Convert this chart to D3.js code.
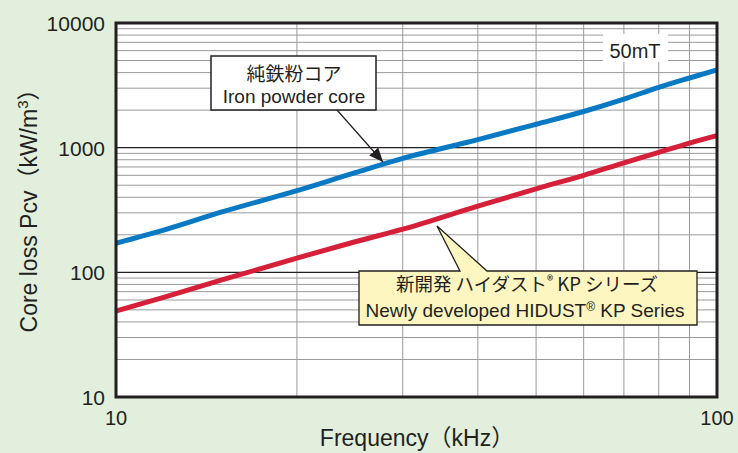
<!DOCTYPE html>
<html>
<head>
<meta charset="utf-8">
<script src="https://cdn.jsdelivr.net/npm/d3@7"></script>
<style>
  html, body { margin: 0; padding: 0; background: #e2efdc; }
  svg { display: block; font-family: "Liberation Sans", Arial, "Noto Sans CJK JP", sans-serif; }
</style>
</head>
<body>
<svg id="chart" width="738" height="453"></svg>
<script>
// frequency (kHz) sample points
var freq = [10, 12, 15, 20, 25, 30, 40, 50, 60, 70, 80, 90, 100];
// core loss (kW/m3) at 50mT
var ironPowder = [171, 218, 305, 452, 630, 820, 1160, 1540, 1950, 2450, 3050, 3620, 4200];
var hidustKP = [49, 63, 87, 130, 176, 222, 340, 468, 600, 755, 916, 1089, 1250];

var xTicks = [10, 100];
var yTicks = [10, 100, 1000, 10000];

var svg = d3.select("#chart");
var margin = {left: 116, right: 21, top: 23, bottom: 56};
var width = 738, height = 453;

var x = d3.scaleLog().domain([10, 100]).range([margin.left, width - margin.right]);
var y = d3.scaleLog().domain([10, 10000]).range([height - margin.bottom, margin.top]);

var ink = "#231f20";

// plot background
svg.append("rect")
  .attr("x", x(10)).attr("y", y(10000))
  .attr("width", x(100) - x(10)).attr("height", y(10) - y(10000))
  .attr("fill", "#fff");

// minor grid
var grid = svg.append("g");
var vLines = d3.range(20, 100, 10);
grid.selectAll("line.v").data(vLines).enter().append("line")
  .attr("x1", d => x(d)).attr("x2", d => x(d))
  .attr("y1", y(10)).attr("y2", y(10000))
  .attr("stroke", "#9a9a9a").attr("stroke-width", 1);

var hLines = [];
[10, 100, 1000].forEach(function(dec) {
  for (var k = 2; k <= 9; k++) hLines.push(dec * k);
});
grid.selectAll("line.h").data(hLines).enter().append("line")
  .attr("x1", x(10)).attr("x2", x(100))
  .attr("y1", d => y(d)).attr("y2", d => y(d))
  .attr("stroke", "#9a9a9a").attr("stroke-width", 1);

// decade lines
grid.selectAll("line.d").data([100, 1000]).enter().append("line")
  .attr("x1", x(10)).attr("x2", x(100))
  .attr("y1", d => y(d)).attr("y2", d => y(d))
  .attr("stroke", ink).attr("stroke-width", 1.2);

// 50mT label
svg.append("rect").attr("x", 603).attr("y", 34).attr("width", 65).attr("height", 28).attr("fill", "#fff");
svg.append("text").attr("x", 635).attr("y", 58).attr("text-anchor", "middle")
  .attr("font-size", 20).attr("fill", ink).text("50mT");

// curves
var line = d3.line().x((d, i) => x(freq[i])).y(d => y(d)).curve(d3.curveMonotoneX);
svg.append("path").datum(ironPowder).attr("d", line)
  .attr("fill", "none").attr("stroke", "#0a79c4").attr("stroke-width", 5);
svg.append("path").datum(hidustKP).attr("d", line)
  .attr("fill", "none").attr("stroke", "#d6203a").attr("stroke-width", 5);

// frame
svg.append("rect")
  .attr("x", x(10)).attr("y", y(10000))
  .attr("width", x(100) - x(10)).attr("height", y(10) - y(10000))
  .attr("fill", "none").attr("stroke", ink).attr("stroke-width", 3);

// axis tick labels
svg.selectAll("text.yt").data(yTicks).enter().append("text")
  .attr("x", 105).attr("y", d => y(d) + 8).attr("text-anchor", "end")
  .attr("font-size", 21).attr("fill", ink).text(d => d);
svg.selectAll("text.xt").data(xTicks).enter().append("text")
  .attr("x", d => x(d)).attr("y", y(10) + 28).attr("text-anchor", "middle")
  .attr("font-size", 20).attr("fill", ink).text(d => d);

// axis titles
svg.append("text").attr("x", 417).attr("y", 446).attr("text-anchor", "middle")
  .attr("font-size", 23).attr("fill", ink).text("Frequency（kHz）");
var yt = svg.append("text").attr("transform", "translate(37,205) rotate(-90)")
  .attr("text-anchor", "middle").attr("font-size", 23).attr("fill", ink);
yt.append("tspan").text("Core loss Pcv（kW/m");
yt.append("tspan").attr("font-size", 15).attr("dy", -9).text("3");
yt.append("tspan").attr("dy", 9).text("）");

// callout: iron powder core
svg.append("defs").append("marker").attr("id", "ah")
  .attr("viewBox", "0 0 14 12").attr("refX", 14).attr("refY", 6)
  .attr("markerWidth", 14).attr("markerHeight", 12).attr("markerUnits", "userSpaceOnUse")
  .attr("orient", "auto")
  .append("path").attr("d", "M0,0 L14,6 L0,12 z").attr("fill", ink);
svg.append("line").attr("x1", 337).attr("y1", 110).attr("x2", 383).attr("y2", 162)
  .attr("stroke", ink).attr("stroke-width", 1.2).attr("marker-end", "url(#ah)");
svg.append("rect").attr("x", 211).attr("y", 56).attr("width", 165).attr("height", 54)
  .attr("fill", "#fff").attr("stroke", ink).attr("stroke-width", 1.5);
svg.append("text").attr("x", 294).attr("y", 81).attr("text-anchor", "middle")
  .attr("font-size", 19).attr("fill", ink).attr("font-family", "'Noto Sans CJK JP', sans-serif")
  .text("純鉄粉コア");
svg.append("text").attr("x", 294).attr("y", 103).attr("text-anchor", "middle")
  .attr("font-size", 19).attr("fill", ink).text("Iron powder core");

// callout: HIDUST KP
svg.append("path")
  .attr("d", "M359,271 L460,271 L437,226 L487,271 L697,271 L697,325 L359,325 Z")
  .attr("fill", "#fdf6c0").attr("stroke", ink).attr("stroke-width", 1.3).attr("stroke-linejoin", "miter");
var t1 = svg.append("text").attr("x", 527).attr("y", 291).attr("text-anchor", "middle")
  .attr("font-size", 18.5).attr("fill", ink).attr("font-family", "'Noto Sans CJK JP', sans-serif");
t1.append("tspan").text("新開発 ハイダスト");
t1.append("tspan").attr("font-size", 13).attr("dy", -6).text("®");
t1.append("tspan").attr("dy", 6).text(" KP シリーズ");
var t2 = svg.append("text").attr("x", 525).attr("y", 317).attr("text-anchor", "middle")
  .attr("font-size", 19).attr("fill", ink);
t2.append("tspan").text("Newly developed HIDUST");
t2.append("tspan").attr("font-size", 12).attr("dy", -6).text("®");
t2.append("tspan").attr("dy", 6).text(" KP Series");
</script>
</body>
</html>
